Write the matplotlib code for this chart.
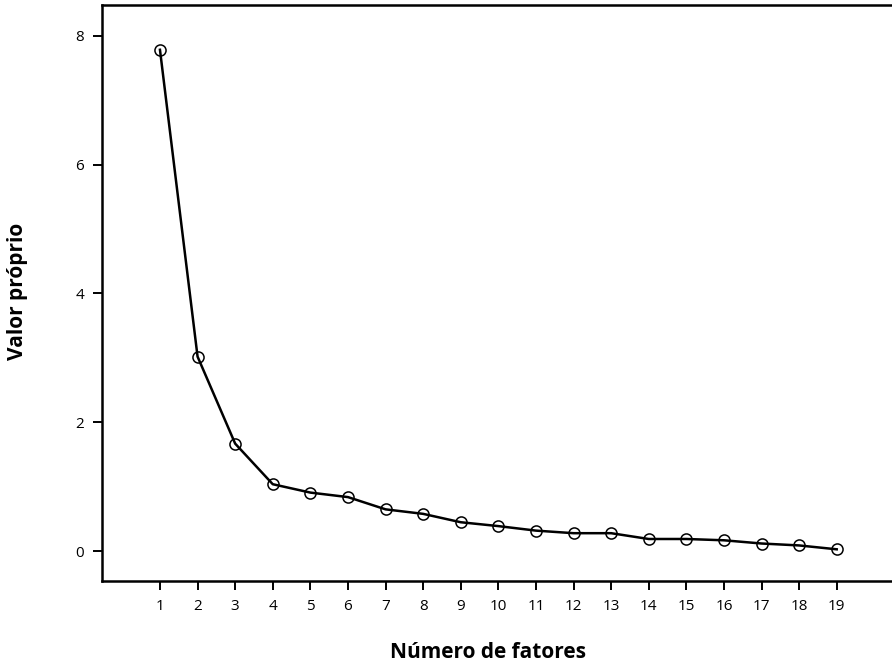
import matplotlib
matplotlib.use("Agg")
import matplotlib.pyplot as plt

# eigenvalues per factor (scree plot)
factors = list(range(1, 20))
eigenvalues = [7.78, 3.02, 1.67, 1.04, 0.91, 0.84, 0.65, 0.58, 0.45, 0.39,
               0.32, 0.28, 0.28, 0.19, 0.19, 0.17, 0.12, 0.09, 0.03]
y_ticks = [0, 2, 4, 6, 8]

plt.rcParams['font.family'] = ['Open Sans', 'DejaVu Sans']

fig = plt.figure(figsize=(8.92, 6.65), dpi=100)
ax = fig.add_axes([0.114, 0.126, 0.886, 0.866])

ax.plot(factors, eigenvalues, color='black', linewidth=1.8,
        marker='o', markersize=8, markerfacecolor='none',
        markeredgecolor='black', markeredgewidth=1.1)

ax.set_xlim(-0.55, 20.47)
ax.set_ylim(-0.465, 8.47)
ax.set_xticks(factors)
ax.set_yticks(y_ticks)
ax.tick_params(direction='out', length=6.5, width=1.4, labelsize=11, pad=6)

for side in ['left', 'bottom', 'top']:
    ax.spines[side].set_linewidth(1.8)
ax.spines['right'].set_visible(False)

fig.text(0.547, 1 - 653 / 665, 'Número de fatores', fontsize=15,
         fontweight='bold', ha='center', va='center')
fig.text(18 / 892, 1 - 291 / 665, 'Valor próprio', fontsize=15,
         fontweight='bold', ha='center', va='center', rotation=90)

fig.savefig('out.png', dpi=100)
